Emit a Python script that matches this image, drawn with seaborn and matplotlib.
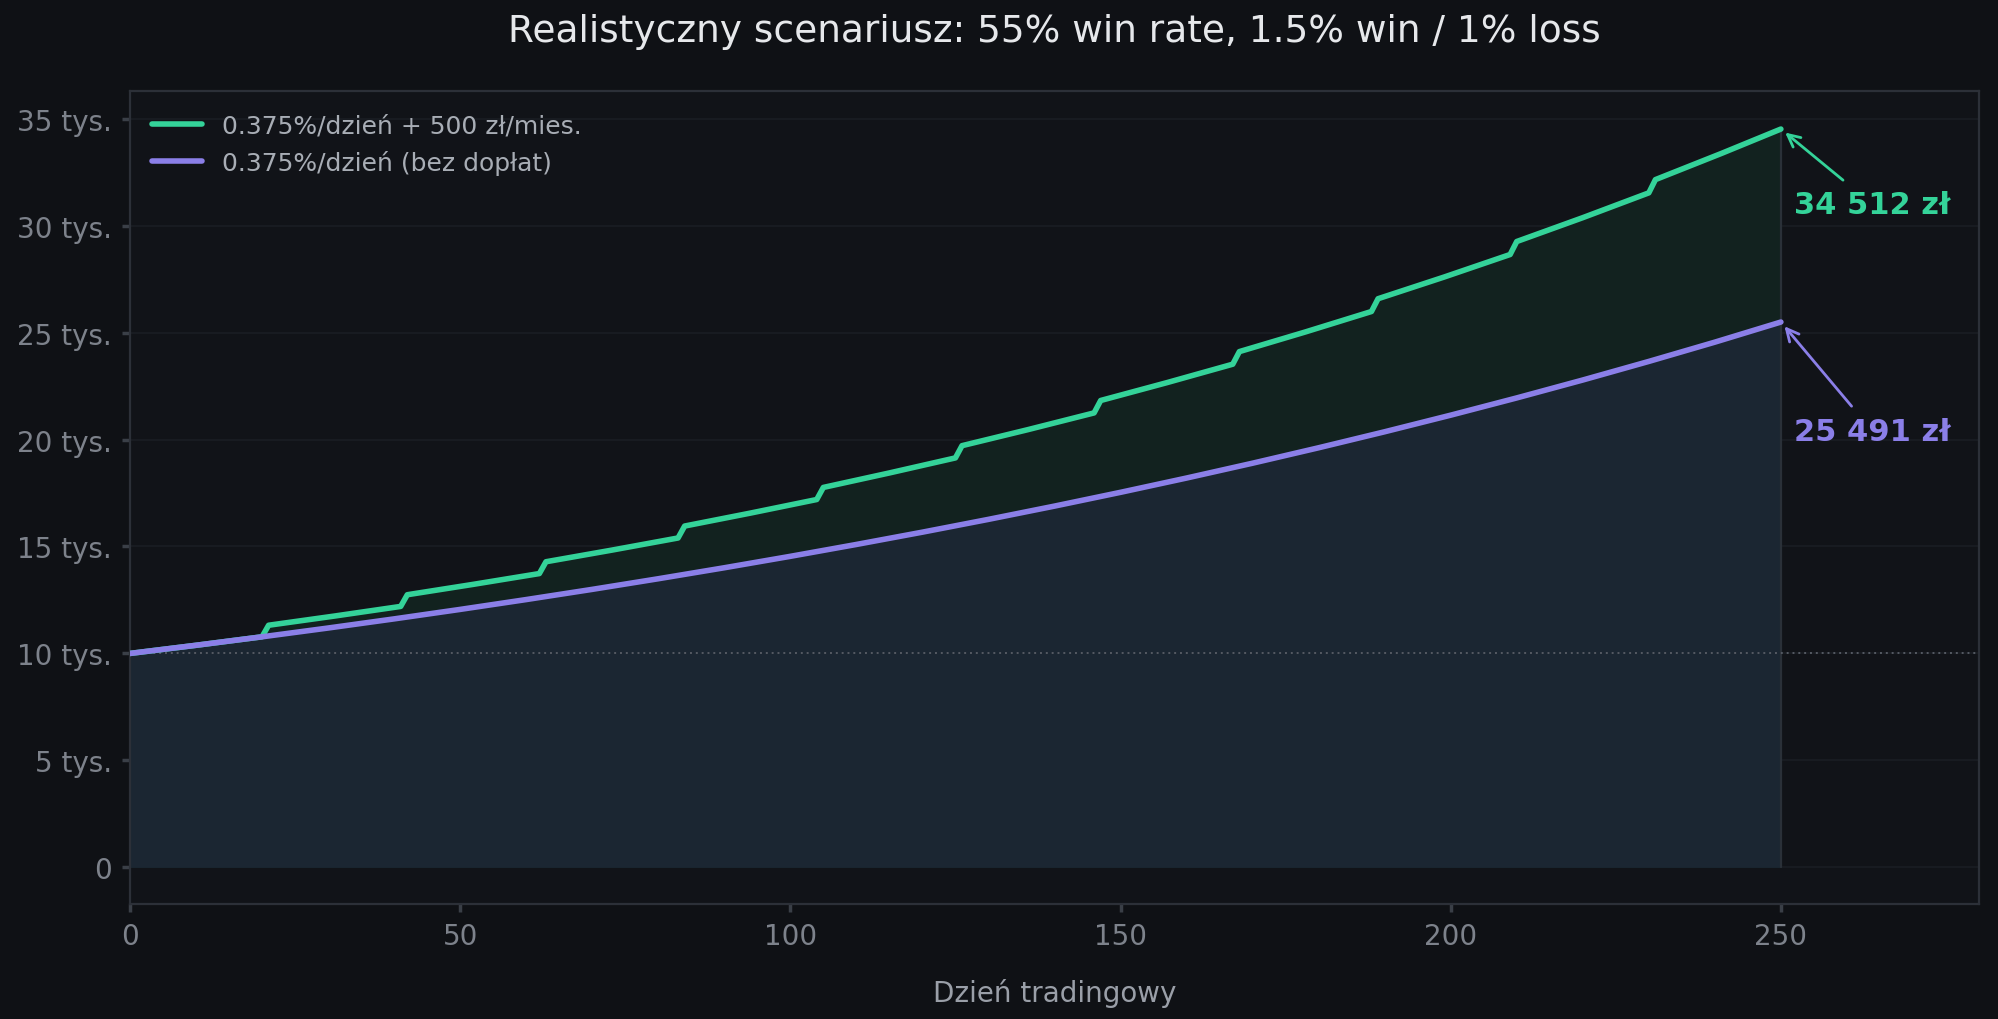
import matplotlib
matplotlib.use("Agg")
import matplotlib.pyplot as plt
import matplotlib.ticker as mticker
import seaborn as sns
import pandas as pd

days_blue = list(range(0, 251, 10))
vals_blue = [10000, 10381, 10777, 11188, 11615, 12058, 12518, 12995, 13491, 14005,
             14539, 15094, 15669, 16267, 16887, 17531, 18199, 18893, 19614, 20362,
             21138, 21944, 22781, 23650, 24551, 25491]
days_green = [0, 10, 20, 21, 31, 41, 42, 52, 62, 63, 73, 83, 84, 94, 104, 105, 115, 125,
              126, 136, 146, 147, 157, 167, 168, 178, 188, 189, 199, 209, 210, 220, 230,
              231, 241, 250]
vals_green = [10000, 10381, 10778, 11318, 11749, 12198, 12744, 13230, 13734, 14286,
              14831, 15397, 15955, 16563, 17195, 17760, 18437, 19140, 19712, 20463,
              21244, 21824, 22656, 23521, 24109, 25028, 25983, 26581, 27594, 28648,
              29255, 30370, 31530, 32148, 33373, 34512]
label_green = "0.375%/dzień + 500 zł/mies."
label_blue = "0.375%/dzień (bez dopłat)"
title = "Realistyczny scenariusz: 55% win rate, 1.5% win / 1% loss"

BG = "#0f1115"
AX = "#111318"
GREEN = "#34d399"
PURPLE = "#8b7fe8"

sns.set_theme(style="dark")
plt.rcParams["font.family"] = ["DejaVu Sans"]
fig, ax = plt.subplots(figsize=(9.995, 5.1), dpi=200)
fig.patch.set_facecolor(BG)
ax.set_facecolor(AX)

dfg = pd.DataFrame({"d": days_green, "v": vals_green})
dfb = pd.DataFrame({"d": days_blue, "v": vals_blue})
ax.fill_between(dfg["d"], dfg["v"], color="#12221f", zorder=1, lw=0)
ax.fill_between(dfb["d"], dfb["v"], color="#1b2632", zorder=1.5, lw=0)
ax.plot([250, 250], [0, vals_green[-1]], color="#2a3038", lw=0.8, zorder=1.6)
ax.axhline(10000, color="#555a63", lw=0.7, ls=(0, (1, 2)), zorder=1.7)

sns.lineplot(data=dfg, x="d", y="v", color=GREEN, lw=2, ax=ax, label=label_green, zorder=3)
sns.lineplot(data=dfb, x="d", y="v", color=PURPLE, lw=2, ax=ax, label=label_blue, zorder=3)

ax.set_xlim(0, 280)
ax.set_ylim(-1700, 36300)
ax.yaxis.set_major_locator(mticker.MultipleLocator(5000))
ax.xaxis.set_major_locator(mticker.MultipleLocator(50))
ax.yaxis.set_major_formatter(mticker.FuncFormatter(lambda v, p: "0" if v == 0 else f"{int(v/1000)} tys."))
ax.grid(axis="y", color="#1a1d23", lw=0.6)
ax.grid(axis="x", visible=False)
for s in ax.spines.values():
    s.set_color("#2c3038")
    s.set_linewidth(0.8)
ax.tick_params(colors="#7d828b", labelsize=10, length=3, color="#3a3f47", bottom=True, left=True)
ax.set_xlabel("Dzień tradingowy", color="#9a9fa8", fontsize=10, labelpad=10)
ax.set_ylabel("")
ax.set_title(title, color="#e6e8eb", fontsize=13.5, pad=18)

ax.annotate("34 512 zł", xy=(250, vals_green[-1]), xytext=(252, 30600),
            color=GREEN, fontsize=11, fontweight="bold",
            arrowprops=dict(arrowstyle="->", color=GREEN, lw=1))
ax.annotate("25 491 zł", xy=(250, vals_blue[-1]), xytext=(252, 20000),
            color=PURPLE, fontsize=11, fontweight="bold",
            arrowprops=dict(arrowstyle="->", color=PURPLE, lw=1))

leg = ax.legend(loc="upper left", frameon=False, fontsize=9)
for t in leg.get_texts():
    t.set_color("#a8adb5")

fig.subplots_adjust(left=0.065, right=0.99, top=0.91, bottom=0.113)
fig.savefig("out.png", dpi=200, facecolor=BG)
